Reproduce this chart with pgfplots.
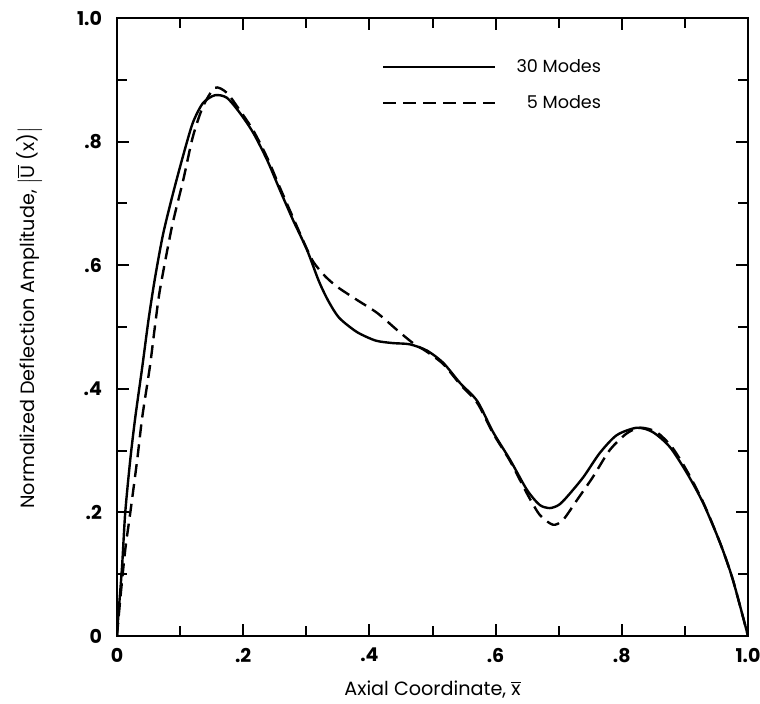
\documentclass[border=0pt]{standalone}
\usepackage{fontspec}
\setmainfont{Poppins}
\usepackage{pgfplots}
\pgfplotsset{compat=1.18}
\begin{document}
\begin{tikzpicture}
\begin{axis}[
  at={(0,0)}, anchor=south west,
  scale only axis,
  width=315.5pt, height=309pt,
  xmin=0, xmax=1, ymin=0, ymax=1,
  axis line style={line width=1.4pt},
  xtick={0,0.2,0.4,0.6,0.8,1},
  xticklabels={0,.2,.4,.6,.8,1.0},
  ytick={0,0.2,0.4,0.6,0.8,1},
  yticklabels={0,.2,.4,.6,.8,1.0},
  minor xtick={0.1,0.3,0.5,0.7,0.9},
  minor ytick={0.1,0.3,0.5,0.7,0.9},
  tick align=inside,
  xtick pos=both, ytick pos=both,
  major tick length=6pt, minor tick length=5pt,
  every tick/.style={black, line width=1pt},
  tick label style={font=\fontsize{9.5}{11}\selectfont\bfseries},
  xticklabel style={yshift=-2.5pt},
  yticklabel style={xshift=-4pt},
  /pgf/number format/assume math mode=true,
  label style={font=\fontsize{9.6}{11}\selectfont},
  xlabel={Axial Coordinate, $\overline{\mbox{x}}$},
  ylabel={Normalized Deflection Amplitude, $\left|\overline{\mbox{U}}\mbox{ (x)}\right|$},
  xlabel style={at={(axis description cs:0.5,-0.087)}, anchor=center},
  ylabel style={at={(axis description cs:-0.139,0.515)}, anchor=center},
  legend style={draw=none, fill=none, at={(axis cs:0.410,0.947)}, anchor=north west,
    font=\fontsize{8.8}{10.5}\selectfont, row sep=6pt},
  legend cell align=right,
  legend image code/.code={\draw[#1] (0pt,0pt) -- (56pt,0pt); \path (64pt,0pt);},
]
\addplot[black, line width=1.2pt, smooth, tension=0.45] coordinates {
(0,0) (0.002,0.031) (0.008,0.112) (0.013,0.199) (0.021,0.285) (0.029,0.354)
(0.040,0.435) (0.050,0.512) (0.060,0.578) (0.073,0.650) (0.089,0.717)
(0.105,0.778) (0.120,0.830) (0.136,0.862) (0.155,0.875) (0.174,0.871)
(0.195,0.846) (0.216,0.814) (0.238,0.770) (0.258,0.722) (0.279,0.673)
(0.301,0.625) (0.320,0.574) (0.335,0.542) (0.352,0.515) (0.380,0.492)
(0.410,0.478) (0.437,0.474) (0.464,0.472) (0.491,0.462) (0.517,0.442)
(0.544,0.409) (0.571,0.380) (0.596,0.330) (0.623,0.285) (0.650,0.236)
(0.670,0.212) (0.686,0.207) (0.700,0.212) (0.713,0.225) (0.739,0.257)
(0.765,0.296) (0.792,0.325) (0.824,0.337) (0.849,0.330) (0.876,0.306)
(0.903,0.264) (0.929,0.215) (0.956,0.150) (0.976,0.091) (1.0,0.0)
};
\addlegendentry{30 Modes}
\addplot[black, line width=1.2pt, smooth, tension=0.45, dash pattern=on 6.5pt off 3.5pt] coordinates {
(0,0) (0.005,0.058) (0.013,0.139) (0.021,0.199) (0.032,0.285) (0.040,0.354)
(0.052,0.435) (0.060,0.500) (0.068,0.560) (0.087,0.662) (0.105,0.738)
(0.120,0.807) (0.136,0.856) (0.155,0.887) (0.174,0.879) (0.195,0.850)
(0.216,0.818) (0.238,0.774) (0.258,0.726) (0.279,0.677) (0.301,0.626)
(0.312,0.604) (0.330,0.582) (0.349,0.565) (0.380,0.544) (0.412,0.523)
(0.444,0.495) (0.469,0.474) (0.491,0.460) (0.517,0.440) (0.544,0.407)
(0.571,0.377) (0.596,0.328) (0.623,0.283) (0.650,0.230) (0.670,0.196)
(0.691,0.180) (0.707,0.188) (0.729,0.220) (0.754,0.257) (0.781,0.301)
(0.808,0.328) (0.830,0.337) (0.855,0.330) (0.880,0.305) (0.905,0.264)
(0.930,0.214) (0.956,0.150) (0.976,0.091) (1.0,0.0)
};
\addlegendentry{5 Modes}
\end{axis}
\pgfresetboundingbox
\path[use as bounding box] (-58.5pt,-33.5pt) rectangle (321.5pt,318pt);
\end{tikzpicture}
\end{document}
